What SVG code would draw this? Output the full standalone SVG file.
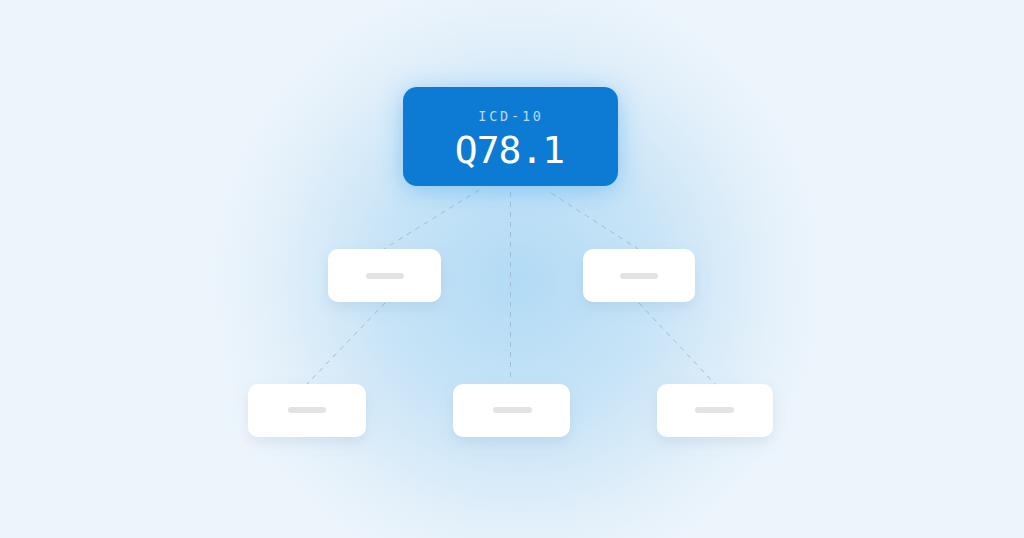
<svg xmlns="http://www.w3.org/2000/svg" width="1024" height="538" viewBox="0 0 1024 538">
  <defs>
    <radialGradient id="glow" cx="518" cy="280" r="310" gradientUnits="userSpaceOnUse">
      <stop offset="0" stop-color="#b2dbf5"/>
      <stop offset="0.45" stop-color="#c8e4f7"/>
      <stop offset="0.8" stop-color="#e3f0fa"/>
      <stop offset="1" stop-color="#edf5fc"/>
    </radialGradient>
    <filter id="shadow" x="-30%" y="-40%" width="160%" height="190%">
      <feDropShadow dx="0" dy="6" stdDeviation="7" flood-color="#6a8fb0" flood-opacity="0.16"/>
    </filter>
    <filter id="blueglow" x="-40%" y="-60%" width="180%" height="220%">
      <feDropShadow dx="0" dy="4" stdDeviation="12" flood-color="#3aa0ee" flood-opacity="0.45"/>
    </filter>
    <style>
      .card { fill: #ffffff; filter: url(#shadow); }
      .bar { fill: #e3e3e3; }
      .link { stroke: #a3bdd0; stroke-width: 1; stroke-dasharray: 5 5; fill: none; }
      .mono { font-family: "DejaVu Sans Mono", "Liberation Mono", monospace; text-anchor: middle; }
    </style>
  </defs>

  <rect width="1024" height="538" fill="#edf5fc"/>
  <rect width="1024" height="538" fill="url(#glow)"/>

  <g id="connectors">
    <line class="link" x1="479" y1="190" x2="384" y2="249"/>
    <line class="link" x1="510.5" y1="192" x2="510.5" y2="382"/>
    <line class="link" x1="551" y1="193" x2="638" y2="249"/>
    <line class="link" x1="385" y1="303" x2="307" y2="384"/>
    <line class="link" x1="639" y1="303" x2="715" y2="384"/>
  </g>

  <g id="root">
    <rect x="403" y="87" width="215" height="99" rx="14" fill="#0a7ad3" filter="url(#blueglow)"/>
    <text class="mono" x="511" y="121" font-size="13.5" letter-spacing="2.8" fill="#b6dbf7">ICD-10</text>
    <text class="mono" x="509.5" y="162.5" font-size="38" letter-spacing="-1" fill="#ffffff">Q78.1</text>
  </g>

  <g id="mid-left">
    <rect class="card" x="328" y="249" width="113" height="53" rx="10"/>
    <rect class="bar" x="366" y="273" width="38" height="6" rx="3"/>
  </g>
  <g id="mid-right">
    <rect class="card" x="583" y="249" width="112" height="53" rx="10"/>
    <rect class="bar" x="620" y="273" width="38" height="6" rx="3"/>
  </g>
  <g id="bottom-left">
    <rect class="card" x="248" y="384" width="118" height="53" rx="10"/>
    <rect class="bar" x="288" y="407" width="38" height="6" rx="3"/>
  </g>
  <g id="bottom-middle">
    <rect class="card" x="453" y="384" width="117" height="53" rx="10"/>
    <rect class="bar" x="493" y="407" width="39" height="6" rx="3"/>
  </g>
  <g id="bottom-right">
    <rect class="card" x="657" y="384" width="116" height="53" rx="10"/>
    <rect class="bar" x="695" y="407" width="39" height="6" rx="3"/>
  </g>
</svg>
